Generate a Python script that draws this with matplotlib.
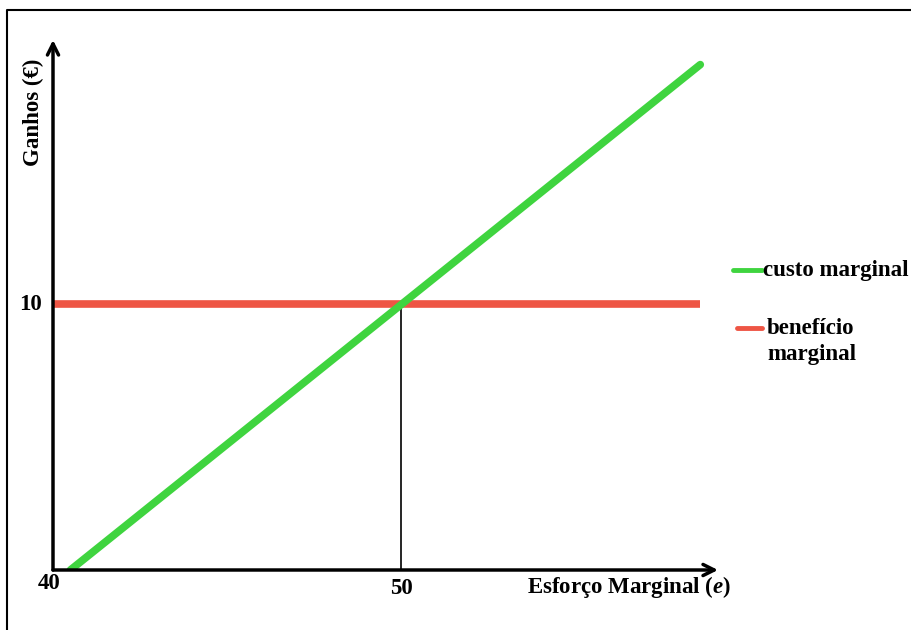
import matplotlib.pyplot as plt
from matplotlib.lines import Line2D

plt.rcParams['font.family'] = ['Liberation Serif', 'DejaVu Serif']
plt.rcParams['font.weight'] = 'bold'
plt.rcParams['mathtext.fontset'] = 'custom'
plt.rcParams['mathtext.it'] = 'Liberation Serif:italic:bold'

# data
custo_x = [40.5, 58.6]
custo_y = [0.0, 19.0]
beneficio_x = [40.0, 58.6]
beneficio_y = [10.0, 10.0]
eq_x = 50
eq_y = 10
x_ticks = [40, 50]
y_ticks = [10]
labels = ['custo marginal', 'benefício\nmarginal']
colors = ['#3fd43f', '#ee5544']

W, H = 912, 630
fig = plt.figure(figsize=(W / 100, H / 100), dpi=100)

# only the top and left edge of the frame show in the original
fig.add_artist(Line2D([7 / W, 7 / W, 1], [0, 1 - 10 / H, 1 - 10 / H], color='black', lw=1.5,
                      transform=fig.transFigure))

x0, x1, ytop, ybot = 53, 718, 40, 570
ax = fig.add_axes([x0 / W, (H - ybot) / H, (x1 - x0) / W, (ybot - ytop) / H])
xmax = 40 + (x1 - x0) / 34.8
ymax = (ybot - ytop) / 26.6
ax.set_xlim(40, xmax)
ax.set_ylim(0, ymax)
ax.axis('off')

ax.plot(custo_x, custo_y, color=colors[0], lw=5.5, solid_capstyle='round', zorder=3)
ax.plot(beneficio_x, beneficio_y, color=colors[1], lw=5.5, solid_capstyle='butt', zorder=2)
ax.plot([eq_x, eq_x], [0, eq_y], color='black', lw=1.2, zorder=1)

# axes with arrows
arr = dict(arrowstyle='->', lw=2.5, color='black', mutation_scale=20, shrinkA=0, shrinkB=0)
ax.annotate('', xy=(xmax, 0), xytext=(40, 0), arrowprops=arr, annotation_clip=False)
ax.annotate('', xy=(40, ymax), xytext=(40, 0), arrowprops=arr, annotation_clip=False)

fs = 16.5
ax.text(39.9, -0.5, str(x_ticks[0]), ha='center', va='center', fontsize=fs)
ax.text(x_ticks[1], -0.7, str(x_ticks[1]), ha='center', va='center', fontsize=fs)
ax.text(39.35, y_ticks[0], str(y_ticks[0]), ha='center', va='center', fontsize=fs)
ax.text(59.5, -0.65, 'Esforço Marginal ($e$)', ha='right', va='center', fontsize=fs)
ax.text(39.45, 17.2, 'Ganhos (€)', rotation=90, ha='center', va='center', fontsize=fs)

# legend drawn by hand so the two-line label lines up like the original
for (ly, lx0, tx), lab, c in zip([(270, 733, 763), (328, 737, 767)], labels, colors):
    fig.add_artist(Line2D([lx0 / W, 762 / W], [1 - ly / H, 1 - ly / H], color=c, lw=3.5,
                          solid_capstyle='round', transform=fig.transFigure))
    fig.text(tx / W, 1 - (ly - 10) / H, lab, ha='left', va='top', fontsize=fs,
             linespacing=1.3)

fig.savefig('out.png', dpi=100)
